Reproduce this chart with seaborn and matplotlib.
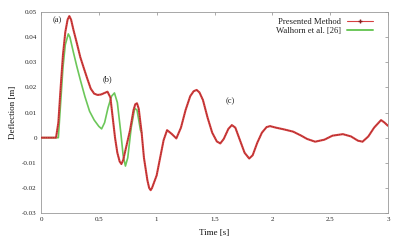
import matplotlib
matplotlib.use("Agg")
import matplotlib.pyplot as plt
import seaborn as sns
import pandas as pd
from matplotlib.lines import Line2D

# Presented Method
t_red = [0.0, 0.13, 0.15, 0.17, 0.19, 0.21, 0.23, 0.245, 0.26, 0.28, 0.31, 0.34, 0.37, 0.40,
         0.43, 0.46, 0.49, 0.52, 0.55, 0.575, 0.60, 0.62, 0.64, 0.66, 0.68, 0.695, 0.71, 0.74, 0.77,
         0.80, 0.815, 0.83, 0.845, 0.87, 0.89, 0.92, 0.935, 0.948, 0.96, 0.98, 1.00, 1.03, 1.06, 1.09, 1.13, 1.17,
         1.21, 1.25, 1.29, 1.32, 1.346, 1.37, 1.40, 1.44, 1.48, 1.52, 1.55, 1.58, 1.62, 1.65,
         1.68, 1.72, 1.76, 1.80, 1.83, 1.87, 1.91, 1.95, 1.98, 2.03, 2.10, 2.18, 2.25, 2.30,
         2.37, 2.45, 2.52, 2.61, 2.68, 2.74, 2.78, 2.83, 2.88, 2.94, 2.97, 3.0]
d_red = [0.0, 0.0, 0.006, 0.02, 0.033, 0.042, 0.047, 0.0484, 0.047, 0.043, 0.0376, 0.032, 0.0277, 0.0235,
         0.0195, 0.0175, 0.017, 0.0172, 0.0178, 0.0183, 0.016, 0.008, 0.0, -0.006, -0.0095, -0.0105, -0.009, -0.003, 0.003,
         0.011, 0.0133, 0.0137, 0.0115, 0.002, -0.008, -0.017, -0.0200, -0.0209, -0.0200, -0.0175, -0.0150, -0.008, -0.001, 0.003, 0.0015, -0.0003,
         0.004, 0.011, 0.0165, 0.0185, 0.019, 0.018, 0.015, 0.008, 0.002, -0.0015, -0.0023, -0.0005, 0.0035, 0.005,
         0.004, -0.001, -0.006, -0.0083, -0.007, -0.002, 0.002, 0.0042, 0.0046, 0.004, 0.0033, 0.0024, 0.0008, -0.0005,
         -0.0016, -0.0008, 0.0008, 0.0014, 0.0005, -0.0012, -0.0016, 0.0005, 0.004, 0.007, 0.006, 0.0047]

# Walhorn et al. [26]
t_green = [0.0, 0.15, 0.17, 0.19, 0.21, 0.236, 0.25, 0.28, 0.31, 0.34, 0.38, 0.42, 0.46, 0.50,
           0.524, 0.55, 0.58, 0.61, 0.635, 0.66, 0.69, 0.71, 0.73, 0.75, 0.78, 0.81, 0.83, 0.86, 0.87]
d_green = [0.0, 0.0, 0.014, 0.028, 0.037, 0.0413, 0.040, 0.034, 0.0283, 0.023, 0.0163, 0.0105, 0.007, 0.0045,
           0.0035, 0.006, 0.012, 0.0165, 0.0178, 0.014, 0.002, -0.007, -0.0113, -0.008, 0.004, 0.0117, 0.011, 0.003, 0.002]

x_ticks = [0, 0.5, 1, 1.5, 2, 2.5, 3]
x_tick_labels = ["0", "0.5", "1", "1.5", "2", "2.5", "3"]
y_ticks = [-0.03, -0.02, -0.01, 0, 0.01, 0.02, 0.03, 0.04, 0.05]
y_tick_labels = ["-0.03", "-0.02", "-0.01", "0", "0.01", "0.02", "0.03", "0.04", "0.05"]

sns.set_style("white")
plt.rcParams['font.family'] = ['Liberation Serif', 'DejaVu Serif']

fig = plt.figure(figsize=(4.0, 2.41), dpi=100)
ax = fig.add_axes([0.1025, 0.116, 0.8675, 0.834])

df_r = pd.DataFrame({"t": t_red, "d": d_red})
df_g = pd.DataFrame({"t": t_green, "d": d_green})

sns.lineplot(data=df_g, x="t", y="d", ax=ax, color="#6cc75a", lw=1.2, sort=False, zorder=2)
sns.lineplot(data=df_r, x="t", y="d", ax=ax, color="#d64040", lw=1.5, sort=False, zorder=3)
ax.plot(t_red, d_red, color="#8a2020", lw=0.7, linestyle=(0, (0.6, 1.2)), zorder=4)

ax.set_xlim(0, 3)
ax.set_ylim(-0.03, 0.05)
ax.set_xticks(x_ticks)
ax.set_xticklabels(x_tick_labels)
ax.set_yticks(y_ticks)
ax.set_yticklabels(y_tick_labels)
ax.tick_params(axis="both", which="both", direction="in", length=2.5, width=0.5,
               colors="#888888", labelsize=5, labelcolor="#222222", top=True, right=True, pad=3)
for s in ax.spines.values():
    s.set_color("#999999")
    s.set_linewidth(0.6)

ax.set_xlabel("Time [s]", fontsize=6.5, color="#111111", labelpad=5)
ax.set_ylabel("Deflection [m]", fontsize=6.5, color="#111111", labelpad=4)

ax.text(0.14, 0.0468, "(a)", fontsize=6, color="#222222", ha="center", va="center")
ax.text(0.573, 0.0232, "(b)", fontsize=6, color="#222222", ha="center", va="center")
ax.text(1.64, 0.0146, "(c)", fontsize=6, color="#222222", ha="center", va="center")

h1 = Line2D([], [], color="#d64040", lw=0.8, marker="+", markersize=2.5, markeredgecolor="#8a2020")
h2 = Line2D([], [], color="#6cc75a", lw=1.4)
leg = ax.legend([h1, h2], ["Presented Method", "Walhorn et al. [26]"], loc="upper right",
                frameon=False, fontsize=6.2, markerfirst=False, handlelength=3.0,
                borderaxespad=0.3, labelspacing=0.05, handletextpad=0.8,
                bbox_to_anchor=(0.975, 1.0))
for txt in leg.get_texts():
    txt.set_color("#222222")

fig.savefig("out.png", dpi=100)
